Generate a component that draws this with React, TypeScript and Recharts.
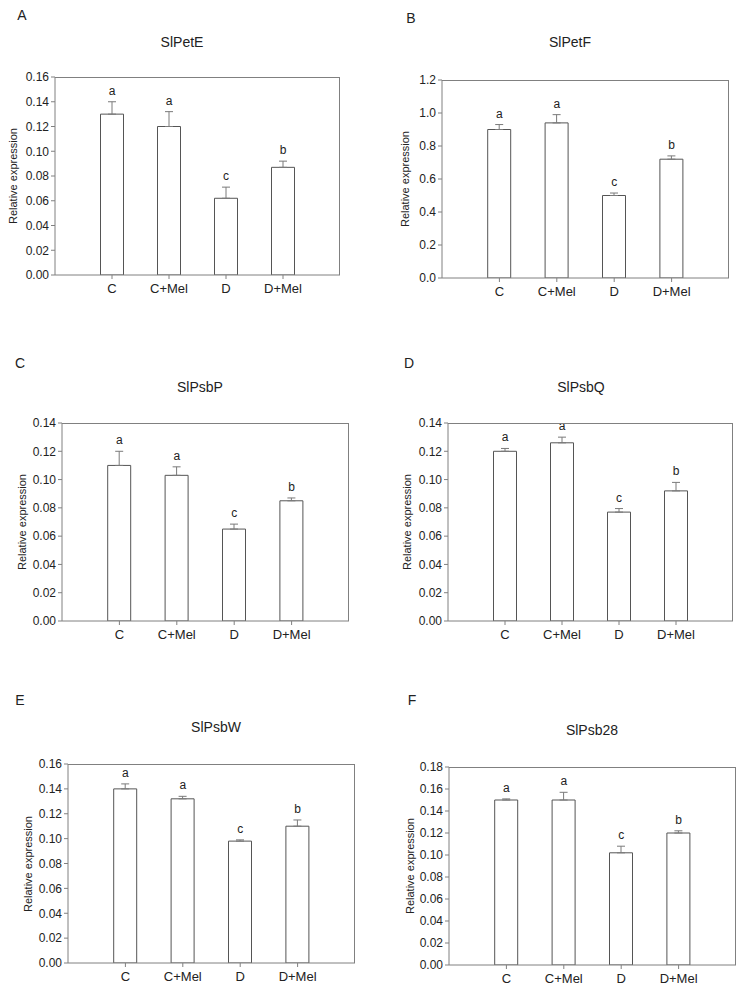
import { ComposedChart, Bar, Line, XAxis, YAxis, ErrorBar, LabelList } from "recharts";

const groups = ["C", "C+Mel", "D", "D+Mel"];
const letters = ["a", "a", "c", "b"];

const petE = [0.13, 0.12, 0.062, 0.087];
const petEErr = [0.01, 0.012, 0.009, 0.005];
const petF = [0.9, 0.94, 0.5, 0.72];
const petFErr = [0.03, 0.05, 0.015, 0.02];
const psbP = [0.11, 0.103, 0.065, 0.085];
const psbPErr = [0.01, 0.006, 0.0035, 0.002];
const psbQ = [0.12, 0.126, 0.077, 0.092];
const psbQErr = [0.002, 0.004, 0.0025, 0.006];
const psbW = [0.14, 0.132, 0.098, 0.11];
const psbWErr = [0.004, 0.002, 0.001, 0.005];
const psb28 = [0.15, 0.15, 0.102, 0.12];
const psb28Err = [0.001, 0.007, 0.006, 0.002];

const ticks14 = [0, 0.02, 0.04, 0.06, 0.08, 0.1, 0.12, 0.14];
const ticks16 = [0, 0.02, 0.04, 0.06, 0.08, 0.1, 0.12, 0.14, 0.16];
const ticks18 = [0, 0.02, 0.04, 0.06, 0.08, 0.1, 0.12, 0.14, 0.16, 0.18];
const ticks12 = [0, 0.2, 0.4, 0.6, 0.8, 1.0, 1.2];

const FONT = "'Liberation Sans', Arial, sans-serif";
const AXIS = "#808080";
const TEXT = "#222";

type Box = { l: number; t: number; r: number; b: number };

type PanelProps = {
  tag: string;
  title: string;
  values: number[];
  errs: number[];
  ticks: number[];
  decimals: number;
  box: Box;
  titleAt: [number, number];
  tagAt: [number, number];
  yLabelX: number;
};

const YW = 60;
const XH = 30;
const TOP = 12;

function Panel({ tag, title, values, errs, ticks, decimals, box, titleAt, tagAt, yLabelX }: PanelProps) {
  const data = groups.map((name, i) => ({
    name,
    value: values[i],
    err: [0, errs[i]],
    top: values[i] + errs[i],
    letter: letters[i],
  }));
  const w = box.r - box.l + YW + 2;
  const h = box.b - box.t + TOP + XH;
  const slot = (box.r - box.l) / 5;
  const yMax = ticks[ticks.length - 1];

  return (
    <>
      <div
        style={{
          position: "absolute",
          left: tagAt[0] - 10,
          top: tagAt[1] - 9,
          width: 20,
          textAlign: "center",
          fontSize: 14,
          lineHeight: "18px",
          color: TEXT,
        }}
      >
        {tag}
      </div>
      <div
        style={{
          position: "absolute",
          left: titleAt[0] - 60,
          top: titleAt[1] - 9,
          width: 120,
          textAlign: "center",
          fontSize: 14,
          lineHeight: "18px",
          color: TEXT,
        }}
      >
        {title}
      </div>
      <div
        style={{
          position: "absolute",
          left: yLabelX - 70,
          top: (box.t + box.b) / 2 - 7,
          width: 140,
          textAlign: "center",
          fontSize: 11,
          lineHeight: "14px",
          color: TEXT,
          transform: "rotate(-90deg)",
        }}
      >
        Relative expression
      </div>
      <div style={{ position: "absolute", left: box.l - YW, top: box.t - TOP }}>
        <ComposedChart width={w} height={h} data={data} margin={{ top: TOP, right: 2, bottom: 0, left: 0 }}>
          <XAxis
            dataKey="name"
            height={XH}
            padding={{ left: slot / 2, right: slot / 2 }}
            stroke={AXIS}
            tickSize={4}
            tickMargin={5}
            tick={{ fill: TEXT, fontSize: 13, fontFamily: FONT }}
            interval={0}
          />
          <YAxis
            width={YW}
            domain={[0, yMax]}
            ticks={ticks}
            stroke={AXIS}
            tickSize={4}
            tickMargin={2}
            tickFormatter={(v: number) => v.toFixed(decimals)}
            tick={{ fill: TEXT, fontSize: 12, fontFamily: FONT }}
            allowDataOverflow
          />
          <Bar dataKey="value" barSize={23} fill="#ffffff" stroke="#555555" strokeWidth={1} isAnimationActive={false}>
            <ErrorBar dataKey="err" width={4} stroke="#7a7a7a" strokeWidth={1} isAnimationActive={false} />
          </Bar>
          <Line
            dataKey="top"
            stroke="none"
            dot={false}
            activeDot={false}
            legendType="none"
            isAnimationActive={false}
          >
            <LabelList
              dataKey="letter"
              position="top"
              offset={7}
              style={{ fill: TEXT, fontSize: 12, fontFamily: FONT }}
            />
          </Line>
        </ComposedChart>
      </div>
      {/* frame: top and right edges of the plot box */}
      <div
        style={{
          position: "absolute",
          left: box.l,
          top: box.t,
          width: box.r - box.l,
          height: box.b - box.t,
          boxSizing: "border-box",
          borderTop: `1px solid ${AXIS}`,
          borderRight: `1px solid ${AXIS}`,
          pointerEvents: "none",
        }}
      />
    </>
  );
}

export default function App() {
  return (
    <div
      style={{
        position: "absolute",
        left: 0,
        top: 0,
        width: 744,
        height: 993,
        background: "#fff",
        fontFamily: FONT,
        overflow: "hidden",
      }}
    >
      <Panel tag="A" title="SlPetE" values={petE} errs={petEErr} ticks={ticks16} decimals={2}
        box={{ l: 55, t: 77, r: 340, b: 275 }} titleAt={[182, 42]} tagAt={[22, 15]} yLabelX={13} />
      <Panel tag="B" title="SlPetF" values={petF} errs={petFErr} ticks={ticks12} decimals={1}
        box={{ l: 442, t: 80, r: 729, b: 278 }} titleAt={[570, 42]} tagAt={[411, 18]} yLabelX={405} />
      <Panel tag="C" title="SlPsbP" values={psbP} errs={psbPErr} ticks={ticks14} decimals={2}
        box={{ l: 62, t: 423, r: 349, b: 621 }} titleAt={[200, 387]} tagAt={[20, 363]} yLabelX={22} />
      <Panel tag="D" title="SlPsbQ" values={psbQ} errs={psbQErr} ticks={ticks14} decimals={2}
        box={{ l: 448, t: 423, r: 733, b: 621 }} titleAt={[581, 387]} tagAt={[409, 363]} yLabelX={407} />
      <Panel tag="E" title="SlPsbW" values={psbW} errs={psbWErr} ticks={ticks16} decimals={2}
        box={{ l: 68, t: 764, r: 355, b: 963 }} titleAt={[216, 727]} tagAt={[20, 700]} yLabelX={28} />
      <Panel tag="F" title="SlPsb28" values={psb28} errs={psb28Err} ticks={ticks18} decimals={2}
        box={{ l: 449, t: 767, r: 736, b: 965 }} titleAt={[592, 730]} tagAt={[412, 700]} yLabelX={410} />
    </div>
  );
}
